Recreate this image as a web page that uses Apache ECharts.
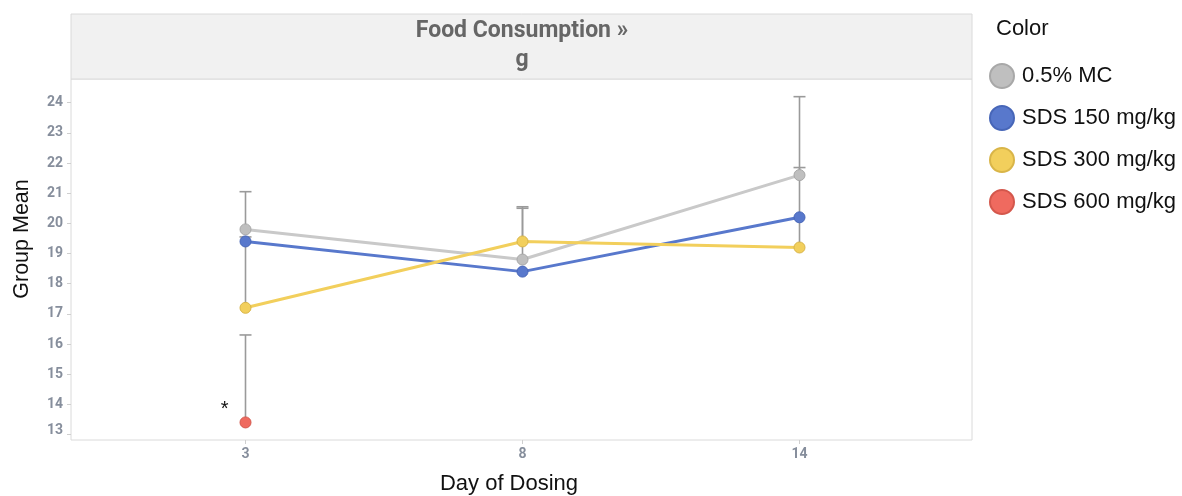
<!DOCTYPE html>
<html>
<head>
<meta charset="utf-8">
<script src="https://cdn.jsdelivr.net/npm/echarts@6/dist/echarts.min.js"></script>
<style>
  html, body { margin: 0; padding: 0; background: #ffffff; }
  #chart { width: 1182px; height: 496px; }
</style>
</head>
<body>
<div id="chart"></div>
<script>
// Day of dosing (evenly spaced categories)
const days = ['3', '8', '14'];

// Group names shown in the legend
const groups = ['0.5% MC', 'SDS 150 mg/kg', 'SDS 300 mg/kg', 'SDS 600 mg/kg'];

// Group mean food consumption (g)
const meanMC     = [19.8, 18.8, 21.6];
const mean150    = [19.4, 18.4, 20.2];
const mean300    = [17.2, 19.4, 19.2];
const mean600    = [13.4, null, null];

// Upper error (SD) drawn above each mean; null = no bar
const sdMC  = [1.25, 1.75, 2.6];
const sd150 = [null, null, null];
const sd300 = [2.35, 1.1, 2.65];
const sd600 = [2.9, null, null];

// Y axis range and tick step
const yMin = 13, yMax = 24, yStep = 1;

const colors = {
  line:   ['#c9c9c9', '#5878cc', '#f2cf5c', '#ef6a5f'],
  fill:   ['#bfbfbf', '#5878cc', '#f2cf5c', '#ef6a5f'],
  border: ['#a8a8a8', '#4766b8', '#d9b548', '#d4574c']
};

const means = [meanMC, mean150, mean300, mean600];
const sds = [sdMC, sd150, sd300, sd600];

// Error bar rows: [day index, mean, mean + sd]
const errRows = [];
means.forEach((m, g) => {
  m.forEach((v, i) => {
    const s = sds[g][i];
    if (v != null && s != null) errRows.push([i, v, +(v + s).toFixed(2)]);
  });
});

const chart = echarts.init(document.getElementById('chart'), null, { renderer: 'canvas' });

const frame = { left: 71, right: 210, top: 79, bottom: 56 };
const plot = { left: 245.5, right: 382.5, top: 102.7, bottom: 61.5 };

const tickFont = { color: '#868e9c', fontSize: 14, fontWeight: 'bold', fontFamily: 'Roboto, sans-serif' };

const lineSeries = groups.map((name, g) => ({
  name: name,
  type: 'line',
  xAxisIndex: 0,
  yAxisIndex: 0,
  data: means[g],
  symbol: 'circle',
  symbolSize: 11,
  z: 3,
  connectNulls: false,
  lineStyle: { color: colors.line[g], width: 3 },
  itemStyle: { color: colors.fill[g], borderColor: colors.border[g], borderWidth: 1 },
  emphasis: { disabled: true },
  label: g === 3 ? {
    show: true,
    formatter: p => (p.value != null ? '*' : ''),
    position: 'left',
    offset: [-6, -13],
    color: '#111',
    fontSize: 20,
    fontFamily: 'Liberation Sans, Arial, sans-serif'
  } : { show: false }
}));

const option = {
  animation: false,
  backgroundColor: '#ffffff',
  grid: [
    { left: plot.left, right: plot.right, top: plot.top, bottom: plot.bottom, show: false },
    { left: frame.left, right: frame.right, top: frame.top, bottom: frame.bottom, show: true,
      borderColor: '#dadada', borderWidth: 1, backgroundColor: '#ffffff', z: 0 }
  ],
  xAxis: [
    {
      gridIndex: 0,
      type: 'category',
      data: days,
      boundaryGap: false,
      offset: 5.5,
      axisLine: { show: false },
      axisTick: { show: true, length: 4, lineStyle: { color: '#cfcfcf' } },
      axisLabel: Object.assign({ margin: 7 }, tickFont),
      splitLine: { show: false }
    },
    { gridIndex: 1, type: 'value', show: false }
  ],
  yAxis: [
    {
      gridIndex: 0,
      type: 'value',
      min: yMin,
      max: yMax,
      interval: yStep,
      offset: plot.left - frame.left,
      axisLine: { show: false },
      axisTick: { show: true, length: 4, lineStyle: { color: '#cfcfcf' } },
      axisLabel: Object.assign({
        margin: 8,
        formatter: v => (v === yMin ? '{lo|' + v + '}' : String(v)),
        rich: { lo: Object.assign({ padding: [0, 0, 8, 0] }, tickFont) }
      }, tickFont),
      splitLine: { show: false }
    },
    { gridIndex: 1, type: 'value', show: false }
  ],
  legend: {
    orient: 'vertical',
    left: 989,
    top: 63,
    padding: 0,
    itemWidth: 24,
    itemHeight: 24,
    itemGap: 17.5 - 1.5,
    icon: 'circle',
    data: groups,
    selectedMode: false,
    textStyle: { color: '#111', fontSize: 22, lineHeight: 24,
                 fontFamily: 'Liberation Sans, Arial, sans-serif', padding: [0, 0, 0, 3] }
  },
  graphic: [
    { type: 'rect', shape: { x: 71, y: 14, width: 901, height: 65 },
      style: { fill: '#f1f1f1', stroke: '#dadada', lineWidth: 1 }, z: 1 },
    { type: 'text', x: 522, y: 31, z: 2,
      style: { text: 'Food Consumption \u00bb', fill: '#666666', font: 'bold 23px Roboto, sans-serif',
               textAlign: 'center', textVerticalAlign: 'middle' } },
    { type: 'text', x: 522, y: 60, z: 2,
      style: { text: 'g', fill: '#666666', font: 'bold 23px Roboto, sans-serif',
               textAlign: 'center', textVerticalAlign: 'middle' } },
    { type: 'text', x: 996, y: 29, z: 2,
      style: { text: 'Color', fill: '#111', font: '22px Liberation Sans, Arial, sans-serif',
               textAlign: 'left', textVerticalAlign: 'middle' } },
    { type: 'text', x: 509, y: 484, z: 2,
      style: { text: 'Day of Dosing', fill: '#111', font: '22px Liberation Sans, Arial, sans-serif',
               textAlign: 'center', textVerticalAlign: 'middle' } },
    { type: 'text', x: 22, y: 239, rotation: Math.PI / 2, z: 2,
      style: { text: 'Group Mean', fill: '#111', font: '21.5px Liberation Sans, Arial, sans-serif',
               textAlign: 'center', textVerticalAlign: 'middle' } }
  ],
  series: [
    {
      name: 'errorbars',
      type: 'custom',
      xAxisIndex: 0,
      yAxisIndex: 0,
      z: 2,
      silent: true,
      data: errRows,
      renderItem: (params, api) => {
        const x = api.value(0);
        const p0 = api.coord([x, api.value(1)]);
        const p1 = api.coord([x, api.value(2)]);
        const half = 6;
        const st = { stroke: '#9a9a9a', lineWidth: 1.6 };
        return {
          type: 'group',
          children: [
            { type: 'line', shape: { x1: p0[0], y1: p0[1], x2: p1[0], y2: p1[1] }, style: st },
            { type: 'line', shape: { x1: p1[0] - half, y1: p1[1], x2: p1[0] + half, y2: p1[1] }, style: st }
          ]
        };
      }
    }
  ].concat(lineSeries)
};

chart.setOption(option);
</script>
</body>
</html>
